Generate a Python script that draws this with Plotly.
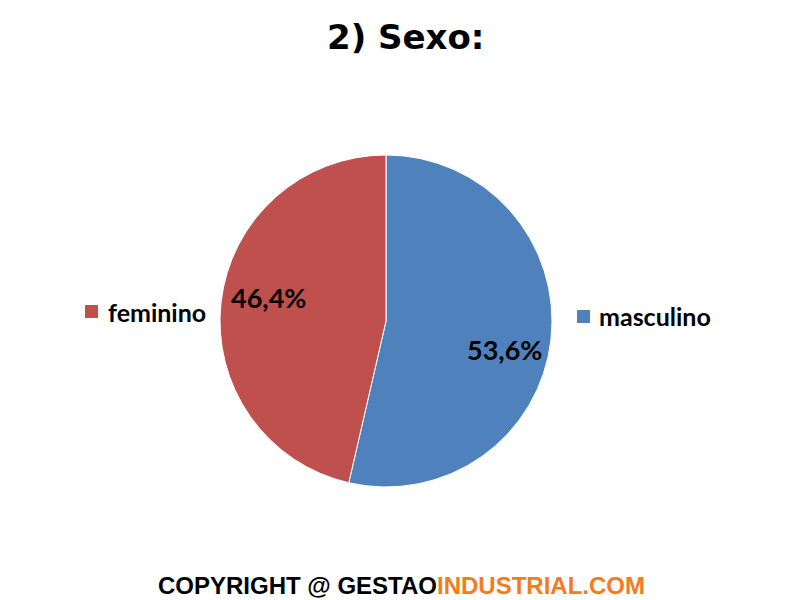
import plotly.graph_objects as go

labels = ["masculino", "feminino"]
values = [53.6, 46.4]
colors = ["#4F81BD", "#C0504D"]
pct_text = [f"{v:.1f}%".replace(".", ",") for v in values]

W, H = 800, 600
OX, OY = 8, 8  # page body offset compensation


def px(x):
    return (x - OX) / W


def py(y):
    return 1 - (y - OY) / H


cx, cy, r = 386, 321, 166

fig = go.Figure(go.Pie(
    labels=labels, values=values, sort=False, direction="clockwise", rotation=0,
    marker=dict(colors=colors, line=dict(color="white", width=1)),
    textinfo="none", hoverinfo="label+percent", showlegend=False,
    domain=dict(x=[px(cx - r), px(cx + r)], y=[py(cy + r), py(cy - r)]),
))

font_lbl = "Lato, Open Sans, sans-serif"
ann = []
ann.append(dict(x=px(405), y=py(37), text="<b>2) Sexo:</b>", showarrow=False,
                font=dict(family="DejaVu Sans", size=34, color="black"), xanchor="center", yanchor="middle"))
ann.append(dict(x=px(268), y=py(297), text=f"<b>{pct_text[1]}</b>", showarrow=False,
                font=dict(family=font_lbl, size=27, color="black"), xanchor="center", yanchor="middle"))
ann.append(dict(x=px(504), y=py(350), text=f"<b>{pct_text[0]}</b>", showarrow=False,
                font=dict(family=font_lbl, size=27, color="black"), xanchor="center", yanchor="middle"))
ann.append(dict(x=px(106), y=py(312), text=f"<b>{labels[1]}</b>", showarrow=False,
                font=dict(family=font_lbl, size=25, color="black"), xanchor="left", yanchor="middle"))
ann.append(dict(x=px(597), y=py(316), text=f"<b>{labels[0]}</b>", showarrow=False,
                font=dict(family=font_lbl, size=25, color="black"), xanchor="left", yanchor="middle"))
ann.append(dict(x=px(401), y=py(585),
                text="<b>COPYRIGHT @ GESTAO<span style='color:#F47B20'>INDUSTRIAL.COM</span></b>",
                showarrow=False, font=dict(family="Liberation Sans", size=24, color="black"),
                xanchor="center", yanchor="middle"))

shapes = [
    dict(type="rect", xref="paper", yref="paper", x0=px(85), x1=px(98), y0=py(318), y1=py(305),
         fillcolor=colors[1], line=dict(width=0)),
    dict(type="rect", xref="paper", yref="paper", x0=px(577), x1=px(590), y0=py(323), y1=py(310),
         fillcolor=colors[0], line=dict(width=0)),
]

fig.update_layout(width=W, height=H, margin=dict(l=0, r=0, t=0, b=0),
                  paper_bgcolor="white", plot_bgcolor="white",
                  annotations=ann, shapes=shapes)
fig.write_html("out.html")
